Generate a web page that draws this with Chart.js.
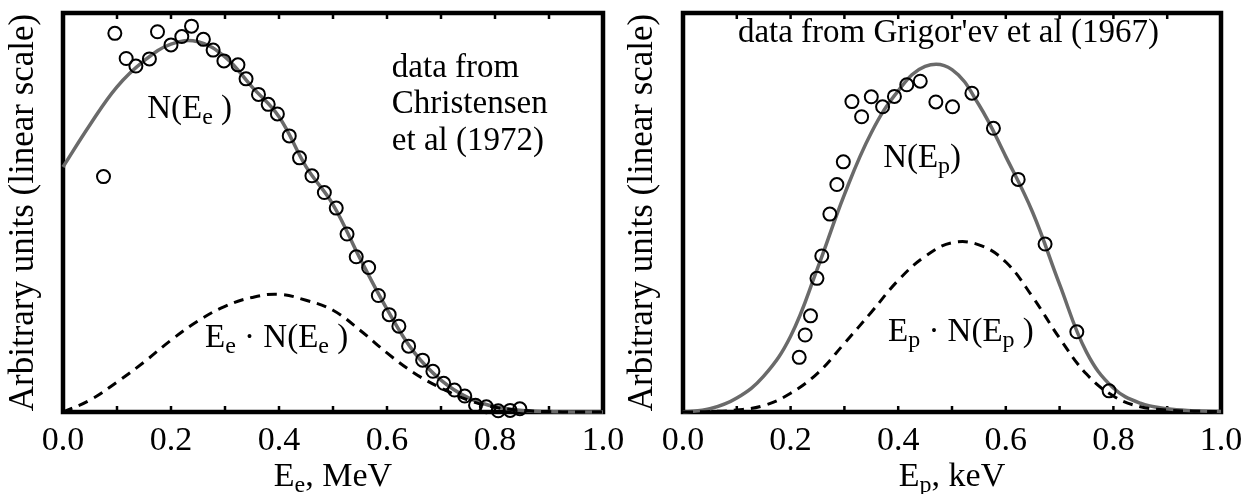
<!DOCTYPE html>
<html>
<head>
<meta charset="utf-8">
<script src="https://cdn.jsdelivr.net/npm/chart.js@4.4.1/dist/chart.umd.min.js"></script>
<style>
  html, body { margin: 0; padding: 0; background: #fff; }
  #wrap { position: relative; width: 1256px; height: 494px; overflow: hidden; }
  canvas { position: absolute; top: 0; }
</style>
</head>
<body>
<div id="wrap">
  <canvas id="left" width="640" height="494" style="left:0px"></canvas>
  <canvas id="right" width="656" height="494" style="left:600px"></canvas>
</div>
<script>
// x grid used for the two fitted curves on each panel
const gridE = [0.00, 0.05, 0.10, 0.15, 0.20, 0.25, 0.30, 0.35, 0.40, 0.45, 0.50,
               0.55, 0.60, 0.65, 0.70, 0.75, 0.80, 0.85, 0.90, 0.95, 1.00];

// left panel: electron spectrum (Christensen et al 1972)
const electronE = [0.075, 0.096, 0.117, 0.135, 0.160, 0.175, 0.200, 0.220, 0.238, 0.260,
                   0.278, 0.298, 0.324, 0.339, 0.362, 0.380, 0.397, 0.419, 0.438, 0.461,
                   0.484, 0.506, 0.526, 0.543, 0.566, 0.584, 0.604, 0.622, 0.640, 0.666,
                   0.685, 0.705, 0.725, 0.744, 0.764, 0.784, 0.806, 0.828, 0.846];
const electronN = [0.590, 0.949, 0.886, 0.867, 0.885, 0.953, 0.920, 0.941, 0.967, 0.934,
                   0.907, 0.880, 0.870, 0.835, 0.796, 0.771, 0.747, 0.692, 0.637, 0.592,
                   0.550, 0.511, 0.446, 0.389, 0.362, 0.292, 0.244, 0.215, 0.165, 0.130,
                   0.102, 0.072, 0.055, 0.040, 0.017, 0.013, 0.003, 0.004, 0.008];
const electronFit = [0.614, 0.720, 0.815, 0.880, 0.922, 0.928, 0.890, 0.815, 0.740, 0.615, 0.520,
                     0.385, 0.258, 0.150, 0.080, 0.036, 0.013, 0.004, 0.001, 0.000, 0.000];
const electronWeighted = [0.000, 0.030, 0.075, 0.125, 0.180, 0.228, 0.265, 0.287, 0.295, 0.280, 0.255,
                          0.205, 0.148, 0.098, 0.060, 0.030, 0.012, 0.004, 0.001, 0.000, 0.000];

// right panel: proton spectrum (Grigor'ev et al 1967)
const protonE = [0.216, 0.227, 0.237, 0.249, 0.258, 0.273, 0.286, 0.298, 0.314, 0.332,
                 0.350, 0.371, 0.393, 0.416, 0.441, 0.470, 0.501, 0.537, 0.577, 0.623,
                 0.673, 0.732, 0.792];
const protonN = [0.137, 0.193, 0.241, 0.335, 0.391, 0.496, 0.570, 0.627, 0.778, 0.740,
                 0.790, 0.765, 0.791, 0.820, 0.829, 0.777, 0.765, 0.799, 0.711, 0.583,
                 0.421, 0.201, 0.053];
const protonFit = [0.000, 0.008, 0.035, 0.090, 0.190, 0.360, 0.545, 0.700, 0.805, 0.866, 0.858,
                   0.770, 0.640, 0.500, 0.320, 0.150, 0.060, 0.022, 0.008, 0.003, 0.001];
const protonWeighted = [0.000, 0.001, 0.005, 0.016, 0.047, 0.097, 0.172, 0.250, 0.330, 0.390, 0.424,
                        0.419, 0.376, 0.288, 0.185, 0.095, 0.040, 0.013, 0.005, 0.002, 0.001];

const xTickLabels = [0.0, 0.2, 0.4, 0.6, 0.8, 1.0];
const tickMarks = [0.1, 0.2, 0.3, 0.4, 0.5, 0.6, 0.7, 0.8, 0.9];

const SERIF = '"Liberation Serif", "Times New Roman", serif';

function pts(xs, ys) {
  return xs.map((x, i) => ({ x: x, y: ys[i] }));
}

// text with subscripts: segs = [[text, isSub], ...]
function richWidth(ctx, segs, size) {
  let w = 0;
  segs.forEach(s => {
    ctx.font = (s[1] ? Math.round(size * 0.72) : size) + 'px ' + SERIF;
    w += ctx.measureText(s[0]).width;
  });
  return w;
}
function drawRich(ctx, segs, x, y, size) {
  segs.forEach(s => {
    ctx.font = (s[1] ? Math.round(size * 0.72) : size) + 'px ' + SERIF;
    ctx.fillText(s[0], x, s[1] ? y + size * 0.17 : y);
    x += ctx.measureText(s[0]).width;
  });
}

const framePlugin = {
  id: 'frame',
  beforeDatasetsDraw(chart) {
    const { ctx, chartArea: a } = chart;
    const x = chart.scales.x;
    ctx.save();
    ctx.strokeStyle = '#000';
    ctx.lineWidth = 2.5;
    tickMarks.forEach(v => {
      const px = x.getPixelForValue(v);
      ctx.beginPath();
      ctx.moveTo(px, a.top);
      ctx.lineTo(px, a.top + 6);
      ctx.moveTo(px, a.bottom);
      ctx.lineTo(px, a.bottom - 6);
      ctx.stroke();
    });
    ctx.lineWidth = 4.5;
    ctx.strokeRect(a.left, a.top, a.right - a.left, a.bottom - a.top);
    ctx.restore();
  }
};

const textPlugin = {
  id: 'richText',
  afterDraw(chart, args, opts) {
    const { ctx, chartArea: a } = chart;
    const xs = chart.scales.x, ys = chart.scales.y;
    ctx.save();
    ctx.fillStyle = '#000';
    ctx.textBaseline = 'alphabetic';
    ctx.textAlign = 'left';
    opts.items.forEach(it => {
      drawRich(ctx, it.segs, xs.getPixelForValue(it.x), ys.getPixelForValue(it.y), it.size);
    });
    // axis title under the x axis
    const w = richWidth(ctx, opts.xTitle, 34);
    drawRich(ctx, opts.xTitle, (a.left + a.right) / 2 - w / 2, 486, 34);
    ctx.restore();
  }
};

function makeChart(id, cfg) {
  return new Chart(document.getElementById(id), {
    type: 'scatter',
    data: {
      datasets: [
        {
          label: 'data',
          data: pts(cfg.dataE, cfg.dataN),
          showLine: false,
          pointStyle: 'circle',
          pointRadius: 6.5,
          borderWidth: 2,
          borderColor: '#000',
          backgroundColor: 'rgba(0,0,0,0)',
          clip: false
        },
        {
          label: 'E*N(E)',
          data: pts(gridE, cfg.weighted),
          showLine: true,
          pointRadius: 0,
          borderColor: '#000',
          borderWidth: 3,
          borderDash: [10, 7],
          tension: 0.4,
          clip: false
        },
        {
          label: 'N(E)',
          data: pts(gridE, cfg.fit),
          showLine: true,
          pointRadius: 0,
          borderColor: '#6a6a6a',
          borderWidth: 3.5,
          tension: 0.4,
          clip: false
        }
      ]
    },
    options: {
      responsive: false,
      animation: false,
      devicePixelRatio: 1,
      layout: { padding: { top: 13, right: cfg.padRight, bottom: 0, left: 0 } },
      plugins: {
        legend: { display: false },
        tooltip: { enabled: false },
        richText: { items: cfg.items, xTitle: cfg.xTitle }
      },
      scales: {
        x: {
          type: 'linear',
          min: 0,
          max: 1,
          grid: { display: false, drawTicks: false },
          border: { display: false },
          afterBuildTicks: s => { s.ticks = xTickLabels.map(v => ({ value: v })); },
          afterFit: s => { s.height = 82; },
          ticks: {
            padding: 9,
            maxRotation: 0,
            autoSkip: false,
            color: '#000',
            font: { family: SERIF, size: 34 },
            callback: v => v.toFixed(1)
          }
        },
        y: {
          min: 0,
          max: 1,
          grid: { display: false, drawTicks: false },
          border: { display: false },
          ticks: { display: false },
          afterFit: s => { s.width = cfg.yWidth; },
          title: {
            display: true,
            text: 'Arbitrary units (linear scale)',
            color: '#000',
            font: { family: SERIF, size: 35 },
            padding: { top: cfg.titlePad, bottom: 0 }
          }
        }
      }
    },
    plugins: [framePlugin, textPlugin]
  });
}

makeChart('left', {
  dataE: electronE, dataN: electronN, fit: electronFit, weighted: electronWeighted,
  yWidth: 63, padRight: 37, titlePad: 3,
  xTitle: [['E'], ['e', 1], [', MeV']],
  items: [
    { x: 0.156, y: 0.737, size: 33, segs: [['N(E'], ['e', 1], [' )']] },
    { x: 0.263, y: 0.163, size: 33, segs: [['E'], ['e', 1], [' \u00b7 N(E'], ['e', 1], [' )']] },
    { x: 0.609, y: 0.840, size: 33, segs: [['data from']] },
    { x: 0.609, y: 0.749, size: 33, segs: [['Christensen']] },
    { x: 0.609, y: 0.657, size: 33, segs: [['et al (1972)']] }
  ]
});

makeChart('right', {
  dataE: protonE, dataN: protonN, fit: protonFit, weighted: protonWeighted,
  yWidth: 83, padRight: 35, titlePad: 22,
  xTitle: [['E'], ['p', 1], [', keV']],
  items: [
    { x: 0.102, y: 0.927, size: 33, segs: [["data from Grigor'ev et al (1967)"]] },
    { x: 0.372, y: 0.614, size: 33, segs: [['N(E'], ['p', 1], [')']] },
    { x: 0.381, y: 0.178, size: 33, segs: [['E'], ['p', 1], [' \u00b7 N(E'], ['p', 1], [' )']] }
  ]
});
</script>
</body>
</html>
